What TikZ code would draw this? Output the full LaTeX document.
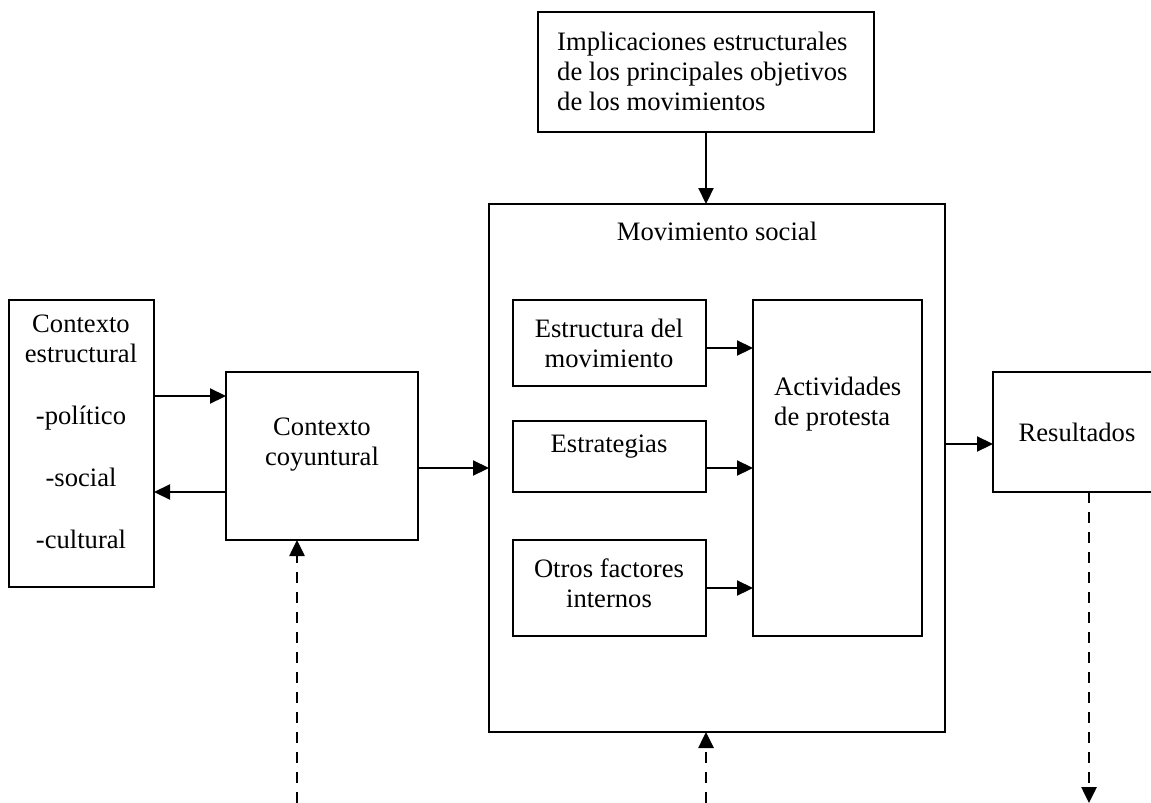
\documentclass[tikz,border=0pt]{standalone}
\usepackage{fontspec}
\setmainfont{Liberation Serif}
\usetikzlibrary{arrows.meta}
\begin{document}
\begin{tikzpicture}[x=1pt,y=-1pt,
  box/.style={draw, line width=2pt, inner sep=0pt, outer sep=0pt, anchor=north west},
  lbl/.style={inner sep=0pt, font=\fontsize{26.6pt}{30pt}\selectfont},
  arr/.style={line width=2.2pt, -{Triangle[length=16pt,width=15pt]}},
  darr/.style={arr, line width=2.6pt, dash pattern=on 11pt off 9pt}]
\useasboundingbox (0,0) rectangle (1151,803);

% boxes
\node[box, minimum width=336pt, minimum height=120pt] (impl) at (538,12) {};
\node[box, minimum width=456pt, minimum height=528pt] (mov) at (489,204) {};
\node[box, minimum width=145pt, minimum height=287pt] (ctxe) at (9,300) {};
\node[box, minimum width=192pt, minimum height=168pt] (coy) at (226,372) {};
\node[box, minimum width=193pt, minimum height=86pt] (estm) at (513,300) {};
\node[box, minimum width=193pt, minimum height=71pt] (estg) at (513,421) {};
\node[box, minimum width=193pt, minimum height=96pt] (otros) at (513,540) {};
\node[box, minimum width=169pt, minimum height=336pt] (act) at (753,300) {};
\node[box, minimum width=162pt, minimum height=120pt] (res) at (993,372) {};

% texts
\node[lbl, align=left, anchor=west] (implT) at (557,71)
  {Implicaciones estructurales\\de los principales objetivos\\de los movimientos};
\node[lbl] (movT) at (717,231) {Movimiento social};
\node[lbl, align=center] (estmT) at (609,343) {Estructura del\\movimiento};
\node[lbl] (estgT) at (609,447) {Estrategias};
\node[lbl, align=center] (otrosT) at (609,583) {Otros factores\\internos};
\node[lbl, align=left, anchor=west] (actT) at (774,404) {Actividades\\de protesta};
\node[lbl, align=center] (ctxeT) at (81,432)
  {Contexto\\estructural\\[32pt]-político\\[32pt]-social\\[32pt]-cultural};
\node[lbl, align=center] (coyT) at (322,445) {Contexto\\coyuntural};
\node[lbl] (resT) at (1077,432) {Resultados};

% solid connectors
\coordinate (h1) at (0,396);
\coordinate (h2) at (0,492);
\coordinate (h3) at (0,468);
\coordinate (h4) at (0,348);
\coordinate (h5) at (0,588);
\coordinate (h6) at (0,444);
\draw[arr] (ctxe.east |- h1) -- (coy.west |- h1);
\draw[arr] (coy.west |- h2) -- (ctxe.east |- h2);
\draw[arr] (coy.east |- h3) -- (mov.west |- h3);
\draw[arr] (estm.east |- h4) -- (act.west |- h4);
\draw[arr] (estg.east |- h3) -- (act.west |- h3);
\draw[arr] (otros.east |- h5) -- (act.west |- h5);
\draw[arr] (mov.east |- h6) -- (res.west |- h6);
\draw[arr] (impl.south) -- (impl.south |- mov.north);

% dashed connectors
\coordinate (d1) at (297,803);
\coordinate (d2) at (706,803);
\coordinate (d3) at (1089,803);
\draw[darr] (d1) -- (d1 |- coy.south);
\draw[darr] (d2) -- (d2 |- mov.south);
\draw[darr] (d3 |- res.south) -- (d3);
\end{tikzpicture}
\end{document}
